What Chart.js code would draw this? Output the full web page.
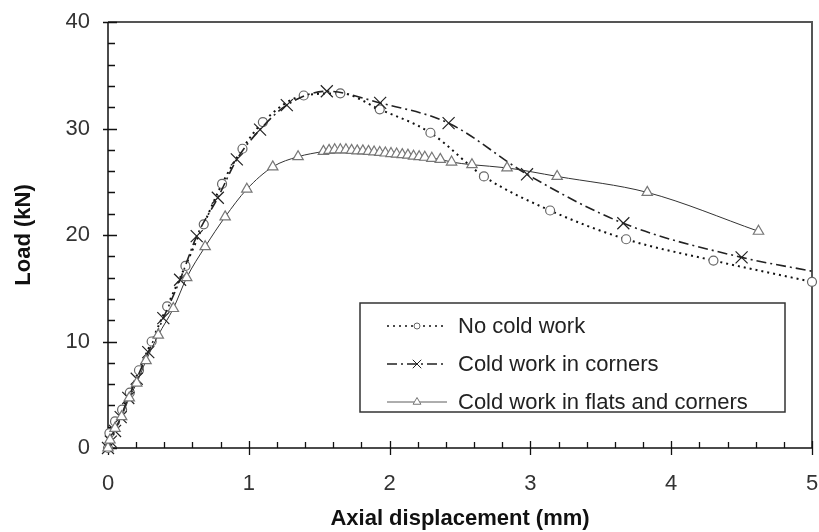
<!DOCTYPE html>
<html>
<head>
<meta charset="utf-8">
<script src="https://cdn.jsdelivr.net/npm/chart.js@4.4.1/dist/chart.umd.min.js"></script>
<style>
  html, body { margin: 0; padding: 0; background: #fff; }
  #wrap { width: 819px; height: 532px; }
</style>
</head>
<body>
<div id="wrap"><canvas id="loadChart" width="819" height="532"></canvas></div>
<script>
// data
const noColdX = [0, 0.01, 0.05, 0.10, 0.155, 0.22, 0.31, 0.42, 0.55, 0.68, 0.81, 0.955, 1.10, 1.39, 1.65, 1.93, 2.29, 2.67, 3.14, 3.68, 4.30, 5.00];
const noColdY = [0, 1.4, 2.5, 3.6, 5.2, 7.3, 10.0, 13.3, 17.1, 21.0, 24.8, 28.1, 30.6, 33.1, 33.3, 31.8, 29.6, 25.5, 22.3, 19.6, 17.6, 15.6];

const cornersX = [0, 0.02, 0.05, 0.09, 0.144, 0.204, 0.286, 0.393, 0.512, 0.63, 0.78, 0.915, 1.08, 1.27, 1.554, 1.933, 2.419, 2.976, 3.66, 4.50, 5.00];
const cornersY = [0, 0.6, 1.6, 2.9, 4.7, 6.5, 9.0, 12.2, 15.8, 19.9, 23.5, 27.1, 29.9, 32.2, 33.5, 32.4, 30.5, 25.7, 21.1, 17.9, 16.6];

const flatsX = [0, 0.014, 0.05, 0.097, 0.151, 0.204, 0.27, 0.357, 0.464, 0.559, 0.69, 0.832, 0.986, 1.17, 1.35,
  1.53, 1.57, 1.61, 1.65, 1.69, 1.73, 1.77, 1.81, 1.85, 1.89, 1.93, 1.97, 2.01, 2.05, 2.09, 2.13, 2.17, 2.21, 2.25, 2.30, 2.36,
  2.44, 2.585, 2.834, 3.19, 3.83, 4.62];
const flatsY = [0, 0.75, 1.85, 2.95, 4.7, 6.1, 8.2, 10.6, 13.1, 16.0, 18.9, 21.7, 24.3, 26.4, 27.35,
  27.85, 27.95, 28.0, 28.0, 28.0, 27.95, 27.9, 27.9, 27.85, 27.8, 27.75, 27.7, 27.65, 27.6, 27.55, 27.5, 27.4, 27.35, 27.3, 27.2, 27.1,
  26.85, 26.6, 26.3, 25.5, 24.0, 20.35];

const seriesNames = ['No cold work', 'Cold work in corners', 'Cold work in flats and corners'];
const xTicks = [0, 1, 2, 3, 4, 5];
const yTicks = [0, 10, 20, 30, 40];

const toPoints = (xs, ys) => xs.map((x, i) => ({ x: x, y: ys[i] }));

const styles = [
  { color: '#111', dash: [2, 4], width: 2, point: 'circle', radius: 4.5, legendR: 3, pColor: '#666', fill: '#fff' },
  { color: '#222', dash: [10, 4, 2, 4], width: 1.6, point: 'crossRot', radius: 8.5, legendR: 6, pColor: '#222', fill: '#fff' },
  { color: '#333', dash: [], width: 1, point: 'triangle', radius: 6, legendR: 4.5, pColor: '#777', fill: '#fff' }
];
const font = '"Liberation Sans", Arial, sans-serif';

// frame, axis lines, inward tick marks and the boxed legend
const framePlugin = {
  id: 'frame',
  beforeDatasetsDraw(chart) {
    const { ctx, chartArea: a, scales: { x, y } } = chart;
    ctx.save();
    ctx.strokeStyle = '#555';
    ctx.lineWidth = 2;
    ctx.beginPath();
    ctx.moveTo(a.left, a.top); ctx.lineTo(a.right, a.top); ctx.lineTo(a.right, a.bottom);
    ctx.stroke();
    ctx.strokeStyle = '#111';
    ctx.lineWidth = 1.5;
    ctx.beginPath();
    ctx.moveTo(a.left, a.top); ctx.lineTo(a.left, a.bottom); ctx.lineTo(a.right, a.bottom);
    ctx.stroke();
    ctx.lineWidth = 1.3;
    ctx.beginPath();
    for (let v = 0; v <= 40.001; v += 2) {
      const py = Math.round(y.getPixelForValue(v)) + 0.5;
      const major = Math.abs(v % 10) < 0.01;
      ctx.moveTo(a.left - (major ? 5 : 0), py);
      ctx.lineTo(a.left + (major ? 9 : 7), py);
    }
    for (let v = 0; v <= 5.001; v += 0.2) {
      const px = Math.round(x.getPixelForValue(v)) + 0.5;
      const major = Math.abs(v - Math.round(v)) < 0.01;
      ctx.moveTo(px, a.bottom + (major ? 7 : 0));
      ctx.lineTo(px, a.bottom - (major ? 7 : 6));
    }
    ctx.stroke();
    ctx.restore();
  },
  afterDraw(chart) {
    const { ctx } = chart;
    const box = { l: 360, t: 303, r: 785, b: 412 };
    ctx.save();
    ctx.fillStyle = '#fff';
    ctx.fillRect(box.l, box.t, box.r - box.l, box.b - box.t);
    ctx.strokeStyle = '#333';
    ctx.lineWidth = 1.5;
    ctx.strokeRect(box.l, box.t, box.r - box.l, box.b - box.t);
    const rows = [326, 364, 402];
    seriesNames.forEach((name, i) => {
      const s = styles[i];
      const yy = rows[i];
      ctx.strokeStyle = s.color;
      ctx.lineWidth = s.width * 0.8;
      ctx.setLineDash(s.dash);
      ctx.beginPath();
      ctx.moveTo(387, yy); ctx.lineTo(447, yy);
      ctx.stroke();
      ctx.setLineDash([]);
      ctx.fillStyle = s.fill;
      ctx.strokeStyle = s.pColor;
      ctx.lineWidth = 1;
      Chart.helpers.drawPoint(ctx, { pointStyle: s.point, radius: s.legendR, rotation: 0, borderWidth: 1 }, 417, yy);
      ctx.fillStyle = '#222';
      ctx.font = '22px ' + font;
      ctx.textBaseline = 'middle';
      ctx.fillText(name, 458, yy + 1);
    });
    ctx.restore();
  }
};

const ctx = document.getElementById('loadChart').getContext('2d');
const lastCorner = cornersX.length - 1;
const noPad = s => { s.paddingLeft = 0; s.paddingRight = 0; s.paddingTop = 0; s.paddingBottom = 0; };
const chart = new Chart(ctx, {
  type: 'line',
  data: {
    datasets: [
      { label: seriesNames[0], data: toPoints(noColdX, noColdY) },
      { label: seriesNames[1], data: toPoints(cornersX, cornersY),
        pointRadius: c => c.dataIndex === lastCorner ? 0 : styles[1].radius },
      { label: seriesNames[2], data: toPoints(flatsX, flatsY) }
    ].map((d, i) => Object.assign({
      borderColor: styles[i].color,
      borderWidth: styles[i].width,
      borderDash: styles[i].dash,
      pointStyle: styles[i].point,
      pointRadius: styles[i].radius,
      pointBorderColor: styles[i].pColor,
      pointBackgroundColor: styles[i].fill,
      pointBorderWidth: 1.2,
      cubicInterpolationMode: 'monotone',
      fill: false,
      clip: false,
      order: 2 - i
    }, d))
  },
  options: {
    responsive: false,
    devicePixelRatio: 1,
    animation: false,
    layout: { autoPadding: false, padding: { left: 0, right: 7, top: 22, bottom: 0 } },
    plugins: { legend: { display: false }, tooltip: { enabled: false } },
    scales: {
      x: {
        type: 'linear', min: 0, max: 5,
        afterBuildTicks: s => { s.ticks = xTicks.map(v => ({ value: v })); },
        afterFit: s => { s.height = 84; noPad(s); },
        grid: { display: false, drawTicks: false },
        border: { display: false },
        ticks: { color: '#333', font: { size: 22, family: font }, padding: 23, maxRotation: 0 },
        title: { display: true, text: 'Axial displacement (mm)', color: '#111',
          font: { size: 22, weight: 'bold', family: font }, padding: { top: 0, bottom: 0 } }
      },
      y: {
        type: 'linear', min: 0, max: 40,
        afterBuildTicks: s => { s.ticks = yTicks.map(v => ({ value: v })); },
        afterFit: s => { s.width = 108; noPad(s); },
        grid: { display: false, drawTicks: false },
        border: { display: false },
        ticks: { color: '#333', font: { size: 22, family: font }, padding: 18 },
        title: { display: true, text: 'Load (kN)', color: '#111',
          font: { size: 22, weight: 'bold', family: font }, padding: { top: 11, bottom: 0 } }
      }
    }
  },
  plugins: [framePlugin]
});
</script>
</body>
</html>
